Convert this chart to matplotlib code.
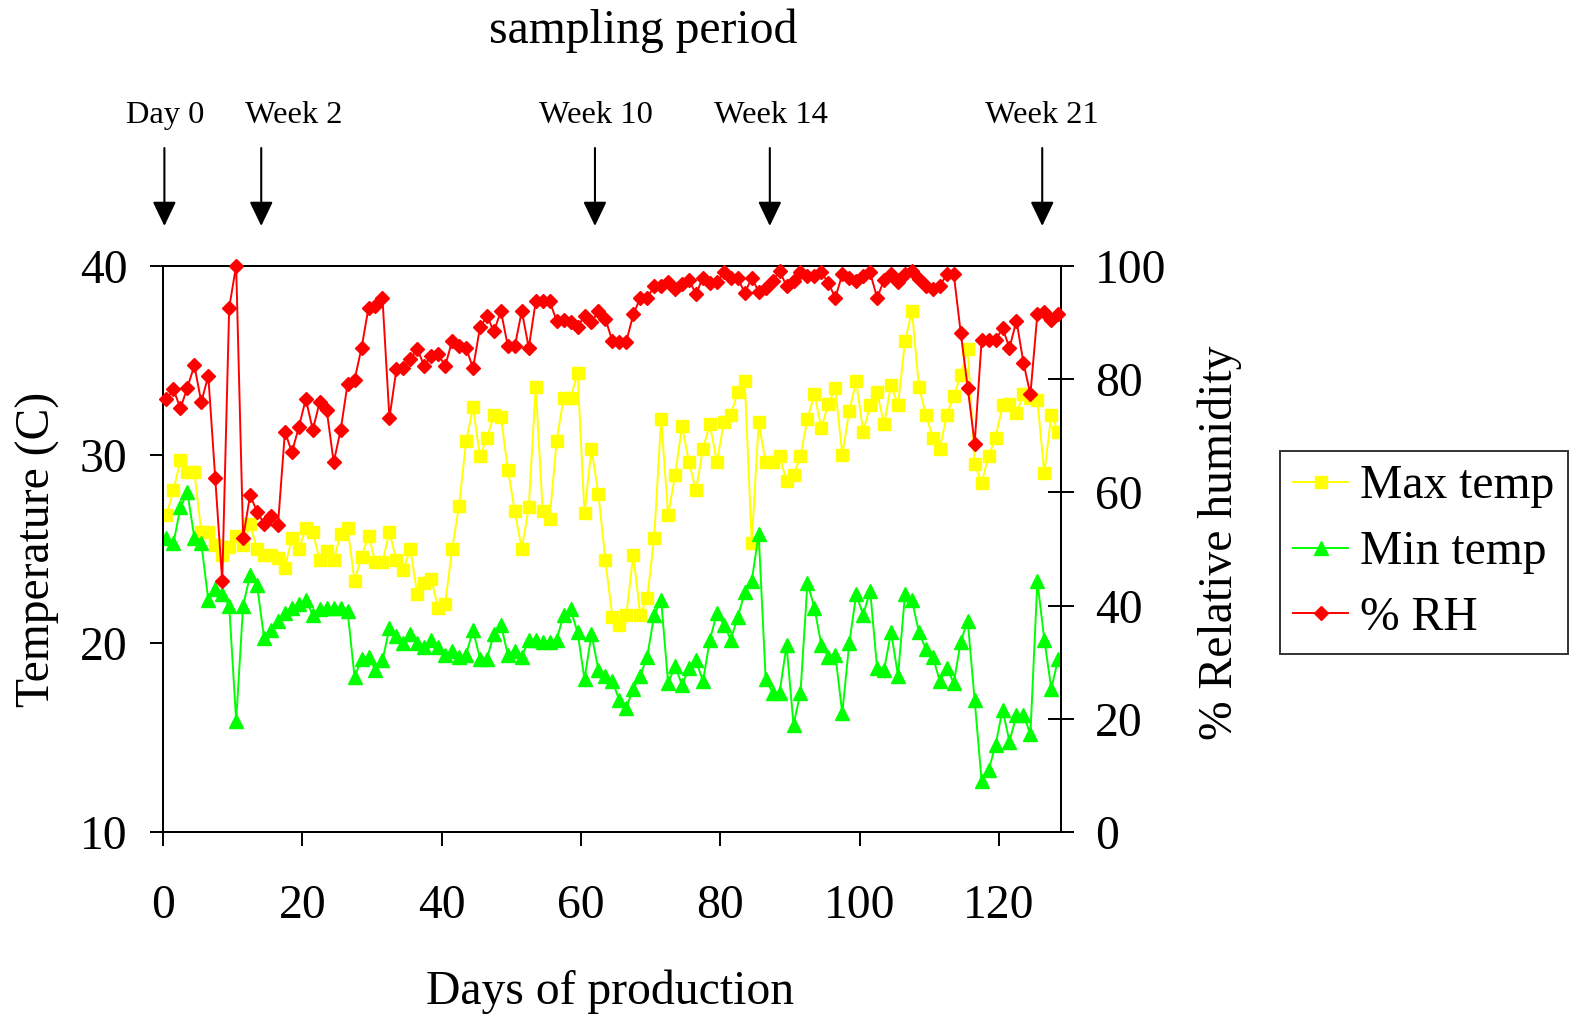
import numpy as np
import matplotlib
matplotlib.use("Agg")
import matplotlib.pyplot as plt
import matplotlib.transforms as mtransforms

plt.rcParams['font.family'] = ['Liberation Serif', 'DejaVu Serif']

# ---------------- data ----------------
max_temp = [26.8, 28.1, 29.7, 29.1, 29.1, 25.9, 25.9, 25.2, 24.7, 25.1, 25.7, 25.2, 26.3, 25.0, 24.7, 24.7, 24.5, 24.0, 25.6, 25.0, 26.1,
            25.9, 24.4, 24.9, 24.4, 25.8, 26.1, 23.3, 24.6, 25.7, 24.3, 24.3, 25.9, 24.4, 23.9, 25.0, 22.6, 23.2, 23.4, 21.9, 22.1, 25.0, 27.3,
            30.7, 32.5, 29.9, 30.9, 32.1, 32.0, 29.2, 27.0, 25.0, 27.2, 33.6, 27.0, 26.6, 30.7, 33.0, 33.0, 34.3, 26.9, 30.3, 27.9, 24.4, 21.4,
            21.0, 21.5, 24.7, 21.5, 22.4, 25.6, 31.9, 26.8, 28.9, 31.5, 29.6, 28.1, 30.3, 31.6, 29.6, 31.7, 32.1, 33.3, 33.9, 25.3, 31.7,
            29.6, 29.6, 29.9, 28.6, 28.9, 29.9, 31.9, 33.2, 31.4, 32.7, 33.5, 30.0, 32.3, 33.9, 31.2, 32.6, 33.3, 31.6, 33.7, 32.6, 36.0, 37.6,
            33.6, 32.1, 30.9, 30.3, 32.1, 33.1, 34.2, 35.6, 29.5, 28.5, 29.9, 30.9, 32.6, 32.7, 32.2, 33.2, 33.0, 32.9, 29.0, 32.1, 31.2]

min_temp = [25.6, 25.3, 27.2, 28.0, 25.6, 25.3, 22.3, 22.9, 22.6, 22.0, 15.9, 22.0, 23.6, 23.1, 20.3, 20.7, 21.2, 21.6, 21.9, 22.1, 22.3,
            21.5, 21.8, 21.9, 21.9, 21.9, 21.7, 18.2, 19.2, 19.3, 18.6, 19.1, 20.8, 20.4, 20.0, 20.5, 20.0, 19.8, 20.2, 19.8, 19.4, 19.6, 19.3,
            19.4, 20.7, 19.2, 19.2, 20.5, 21.0, 19.4, 19.6, 19.3, 20.2, 20.2, 20.1, 20.1, 20.2, 21.5, 21.8, 20.6, 18.1, 20.5, 18.6, 18.3, 18.0,
            17.0, 16.6, 17.6, 18.3, 19.3, 21.5, 22.3, 17.9, 18.8, 17.8, 18.7, 19.1, 18.0, 20.2, 21.6, 21.0, 20.2, 21.4, 22.7, 23.3, 25.8,
            18.1, 17.4, 17.4, 19.9, 15.7, 17.4, 23.2, 21.9, 19.9, 19.3, 19.4, 16.3, 20.0, 22.6, 21.5, 22.8, 18.7, 18.6, 20.6, 18.3, 22.6, 22.3,
            20.6, 19.7, 19.3, 18.0, 18.7, 17.9, 20.1, 21.2, 17.0, 12.7, 13.3, 14.6, 16.5, 14.8, 16.2, 16.2, 15.2, 23.3, 20.2, 17.6, 19.2]

rh = [76.4, 78.2, 74.8, 78.5, 82.4, 75.9, 80.6, 62.5, 44.3, 92.6, 100.0, 52.0, 59.5, 56.6, 54.5, 55.9, 54.2, 70.7, 67.1, 71.5, 76.5,
      71.0, 76.0, 74.5, 65.3, 71.0, 79.2, 79.9, 85.5, 92.6, 92.9, 94.3, 73.1, 81.7, 81.9, 83.5, 85.3, 82.3, 84.1, 84.4, 82.3, 86.7, 85.8,
      85.5, 81.9, 89.1, 91.1, 88.4, 92.0, 85.8, 85.8, 92.0, 85.5, 93.7, 93.8, 93.7, 90.3, 90.5, 90.0, 89.2, 91.1, 90.0, 92.0, 90.6, 86.7,
      86.6, 86.6, 91.4, 94.3, 94.3, 96.4, 96.4, 97.1, 95.9, 96.7, 97.5, 95.0, 97.9, 97.0, 97.1, 98.8, 97.9, 97.9, 95.1, 97.9, 95.4,
      96.1, 97.3, 99.1, 96.4, 97.3, 98.8, 98.1, 98.2, 98.8, 97.0, 94.3, 98.5, 97.8, 97.3, 98.2, 98.8, 94.3, 97.5, 98.5, 97.1, 98.5, 99.1,
      97.6, 96.4, 95.8, 96.4, 98.5, 98.5, 88.2, 78.5, 68.6, 86.8, 86.8, 86.8, 89.0, 85.5, 90.3, 82.9, 77.3, 91.4, 91.9, 90.5, 91.4]

days = np.arange(len(rh)) + 0.5

sample_labels = ['Day 0', 'Week 2', 'Week 10', 'Week 14', 'Week 21']
arrow_days = [0.2, 14.1, 62.0, 87.1, 126.2]
label_days = [0.3, 18.7, 62.2, 87.3, 126.2]

x_ticks = [0, 20, 40, 60, 80, 100, 120]
temp_ticks = [10, 20, 30, 40]
rh_ticks = [0, 20, 40, 60, 80, 100]

YELLOW = '#FFFF00'
GREEN = '#00FF00'
RED = '#FF0000'

# ---------------- figure ----------------
W, H = 1572, 1017
fig = plt.figure(figsize=(W / 100, H / 100), dpi=100)
ax = fig.add_axes([163 / W, 1 - 832.3 / H, 897.7 / W, 566.6 / H])
ax2 = ax.twinx()

lw = 1.4
l1, = ax.plot(days, max_temp, color=YELLOW, lw=lw, marker='s', ms=9.2,
              mec=YELLOW, mfc=YELLOW, label='Max temp', zorder=3)
l2, = ax.plot(days, min_temp, color=GREEN, lw=lw, marker='^', ms=9.6,
              mec=GREEN, mfc=GREEN, label='Min temp', zorder=4)
l3, = ax2.plot(days, rh, color=RED, lw=lw, marker='D', ms=7.0,
               mec=RED, mfc=RED, label='% RH', zorder=5, clip_on=False)

ax.set_xlim(0, 128.85)
ax.set_ylim(10, 40)
ax2.set_ylim(0, 100)

fs = 34.3
ax.set_xticks(x_ticks)
ax.set_yticks(temp_ticks)
ax2.set_yticks(rh_ticks)
ax.tick_params(axis='x', direction='out', length=10, width=1.4, labelsize=fs, pad=27.5)
ax.tick_params(axis='y', direction='out', length=9.4, width=1.4, labelsize=fs, pad=16)
ax2.tick_params(axis='y', direction='inout', length=19, width=1.4, labelsize=fs, pad=15.4)

for a in (ax, ax2):
    for s in a.spines.values():
        s.set_linewidth(1.4)
        s.set_color('black')

# axis labels
fig.text(38 / W, 1 - 549 / H, 'Temperature (C)', rotation=90, ha='center', va='center', fontsize=fs)
fig.text(1220 / W, 1 - 543 / H, '% Relative humidity', rotation=90, ha='center', va='center', fontsize=fs)
fig.text(610 / W, 1 - 992 / H, 'Days of production', ha='center', va='center', fontsize=fs)
fig.text(643 / W, 1 - 31 / H, 'sampling period', ha='center', va='center', fontsize=fs)

# sampling arrows
trans = mtransforms.blended_transform_factory(ax.transData, fig.transFigure)
for lab, ad, ld in zip(sample_labels, arrow_days, label_days):
    ax.annotate('', xy=(ad, 1 - 226 / H), xytext=(ad, 1 - 148 / H),
                xycoords=trans, textcoords=trans, annotation_clip=False,
                arrowprops=dict(arrowstyle='-|>,head_length=0.75,head_width=0.36',
                                mutation_scale=20, color='black', lw=1.5,
                                shrinkA=0, shrinkB=0))
    ax.text(ld, 1 - 123 / H, lab, transform=trans, ha='center', va='baseline',
            fontsize=23.4, clip_on=False)

# legend
leg = fig.legend(handles=[l1, l2, l3], loc='upper left',
                 bbox_to_anchor=(1280 / W, 1 - 451 / H), borderaxespad=0,
                 fontsize=fs, frameon=True, fancybox=False, shadow=False,
                 handlelength=1.15, handletextpad=0.25, labelspacing=0.46,
                 borderpad=0.28, numpoints=1)
leg.get_frame().set_edgecolor('black')
leg.get_frame().set_linewidth(1.4)

fig.savefig('out.png', dpi=100)
